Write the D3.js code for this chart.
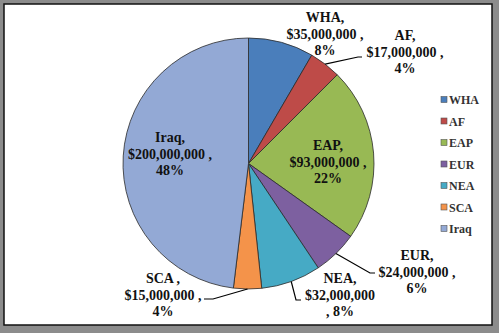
<!DOCTYPE html>
<html><head><meta charset="utf-8">
<script src="https://cdn.jsdelivr.net/npm/d3@7"></script>
<style>html,body{margin:0;padding:0;background:#fff;}svg{display:block;}
svg text{font-family:"Liberation Serif","Times New Roman",serif;font-weight:bold;}
</style>
</head><body>
<script>
const categories = ["WHA","AF","EAP","EUR","NEA","SCA","Iraq"];
const values = [35000000,17000000,93000000,24000000,32000000,15000000,200000000];
const colors = ["#4A7EBB","#BE4B48","#98B954","#7D60A0","#46AAC5","#F4934A","#93A9D5"];
const labelLines = [
  ["WHA,","$35,000,000 ,","8%"],
  ["AF,","$17,000,000 ,","4%"],
  ["EAP,","$93,000,000 ,","22%"],
  ["EUR,","$24,000,000 ,","6%"],
  ["NEA,","$32,000,000",", 8%"],
  ["SCA ,","$15,000,000 ,","4%"],
  ["Iraq,","$200,000,000 ,","48%"]
];

// layout (label anchors and leader elbows)
const labelPos = [[325,22],[405,40],[328,150],[417,260],[340,283],[163,283],[170,142]];
const leaders = [null,[[358,57],[362,57]],null,[[370,273],[375,273]],[[296,300],[301,300]],[[213,299],[204,299]],null];

const W=499,H=333;
const svg=d3.select("body").append("svg").attr("width",W).attr("height",H);
svg.append("rect").attr("width",W).attr("height",H).attr("fill","#8c8c8c");
svg.append("rect").attr("x",4).attr("y",4).attr("width",488).attr("height",321).attr("fill","#fff").attr("stroke","#111").attr("stroke-width",1.5);

const cx=248.5, cy=163.5, r=125.5;
const pie=d3.pie().sort(null).value(d=>d);
const arcs=pie(values);
const arc=d3.arc().innerRadius(0).outerRadius(r);
const g=svg.append("g").attr("transform",`translate(${cx},${cy})`);
g.selectAll("path").data(arcs).join("path")
  .attr("d",arc).attr("fill",(d,i)=>colors[i]).attr("stroke","#2a2a2a").attr("stroke-width",0.8);

// leaders
arcs.forEach((a,i)=>{
  if(!leaders[i]) return;
  const m=(a.startAngle+a.endAngle)/2;
  const p0=[cx+r*Math.sin(m), cy-r*Math.cos(m)];
  const pts=[p0,...leaders[i]];
  svg.append("path").attr("d",d3.line()(pts)).attr("fill","none").attr("stroke","#000").attr("stroke-width",1.2);
});

// labels
labelLines.forEach((lines,i)=>{
  const t=svg.append("text").attr("font-size",14).attr("fill","#111").attr("text-anchor","middle");
  lines.forEach((s,j)=>{
    t.append("tspan").attr("x",labelPos[i][0]).attr("y",labelPos[i][1]+j*16.5).text(s);
  });
});

// legend
const lg=svg.append("g");
categories.forEach((c,i)=>{
  const y=100+i*21.5;
  lg.append("rect").attr("x",441).attr("y",y-3.5).attr("width",6).attr("height",6)
    .attr("fill",colors[i]).attr("stroke","#555").attr("stroke-width",0.6);
  lg.append("text").attr("x",449).attr("y",y+4).attr("font-size",12).attr("fill","#333").text(c);
});
</script>
</body></html>
